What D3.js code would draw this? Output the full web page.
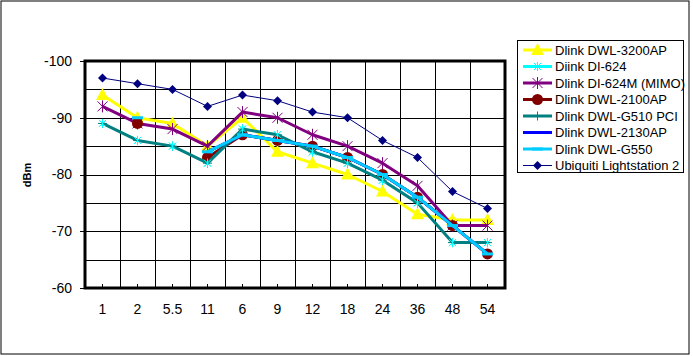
<!DOCTYPE html>
<html><head><meta charset="utf-8">
<script src="https://cdn.jsdelivr.net/npm/d3@7"></script>
<style>html,body{margin:0;padding:0;background:#fff;}svg{display:block;}</style>
</head><body>
<svg id="chart" width="693" height="356"></svg>
<script>
const categories = ["1","2","5.5","11","6","9","12","18","24","36","48","54"];
const yTicks = [-100,-90,-80,-70,-60];
const seriesNames = ["Dlink DWL-3200AP","Diink DI-624","Dlink DI-624M (MIMO)","Dlink DWL-2100AP","Dlink DWL-G510 PCI","Dlink DWL-2130AP","Dlink DWL-G550","Ubiquiti Lightstation 2"];
const dwl3200 = [-94,-90,-89,-85,-90,-84,-82,-80,-77,-73,-72,-72];
const di624   = [-89,-86,-85,-82,-88,-87,-84,-82,-79,-75,-68,-68];
const di624m  = [-92,-89,-88,-85,-91,-90,-87,-85,-82,-78,-71,-71];
const dwl2100 = [null,-89,null,-83,-87,-86,-85,-83,-80,-76,-71,-66];
const g510    = [-89,-86,-85,-82,-88,-87,-84,-82,-79,-75,-68,-68];
const dwl2130 = [null,-90,null,-84,-87,-86,-85,-83,-80,-76,-71,-66];
const g550    = [null,-90,null,-84,-87,-86,-85,-83,-80,-76,-71,-66];
const ubiquiti= [-97,-96,-95,-92,-94,-93,-91,-90,-86,-83,-77,-74];

const seriesValues = [dwl3200, di624, di624m, dwl2100, g510, dwl2130, g550, ubiquiti];
const colors = ["#FFFF00","#00FFFF","#800080","#800000","#008080","#0000FF","#00CCFF","#000080"];
const widths = [3,1.5,3,3,3,3,3,1];
const markers = ["triangle","x","star","circle","plus","none","dash","diamond"];

const svg = d3.select("#chart");
const font = "Arial, 'Liberation Sans', sans-serif";
const L=85, R=505, T=61, B=288;

svg.append("rect").attr("x",1).attr("y",1).attr("width",688).attr("height",353)
  .attr("fill","#fff").attr("stroke","#000").attr("stroke-width",1);

const x = d3.scaleBand().domain(categories).range([L,R]).padding(0);
const y = d3.scaleLinear().domain([-100,-60]).range([T,B]);

// grid
const g = svg.append("g").attr("shape-rendering","crispEdges");
d3.range(-95,-60,5).forEach(v=>{
  g.append("line").attr("x1",L).attr("x2",R).attr("y1",Math.round(y(v))+0.5).attr("y2",Math.round(y(v))+0.5)
   .attr("stroke","#000").attr("stroke-width",1);
});
categories.slice(1).forEach(c=>{
  const xx=Math.round(x(c))+0.5;
  g.append("line").attr("x1",xx).attr("x2",xx).attr("y1",T).attr("y2",B).attr("stroke","#000");
});

// axes
const yAxis = d3.axisLeft(y).tickValues(yTicks).tickSize(5).tickPadding(8).tickFormat(d=>d);
const ya = svg.append("g").attr("transform",`translate(${L},0)`).call(yAxis);
ya.select(".domain").remove();
ya.selectAll("line").attr("stroke","#000").attr("shape-rendering","crispEdges");
ya.selectAll("text").attr("font-family",font).attr("font-size",14).attr("fill","#000");

const xAxis = d3.axisBottom(x).tickSize(-4).tickPadding(16);
const xa = svg.append("g").attr("transform",`translate(0,${B})`).call(xAxis);
xa.select(".domain").remove();
xa.selectAll("line").attr("stroke","#000").attr("shape-rendering","crispEdges");
xa.selectAll("text").attr("font-family",font).attr("font-size",14).attr("fill","#000");

svg.append("rect").attr("x",L).attr("y",T).attr("width",R-L).attr("height",B-T)
  .attr("fill","none").attr("stroke","#000").attr("stroke-width",3);

svg.append("text").attr("transform","translate(31,175) rotate(-90)").attr("text-anchor","middle")
  .attr("font-family",font).attr("font-size",11).attr("font-weight","bold").text("dBm");

function drawMarker(sel, type, color, cx, cy){
  const s = sel.append("g").attr("transform",`translate(${cx},${cy})`);
  if(type==="triangle") s.append("path").attr("d","M0,-7L6.5,5L-6.5,5Z").attr("fill",color);
  else if(type==="circle") s.append("circle").attr("r",5.5).attr("fill",color);
  else if(type==="diamond") s.append("path").attr("d","M0,-4.5L4.5,0L0,4.5L-4.5,0Z").attr("fill",color);
  else if(type==="dash") s.append("rect").attr("x",-5.5).attr("y",-1.5).attr("width",11).attr("height",3).attr("fill",color);
  else if(type==="plus") s.append("path").attr("d","M-4.5,0H4.5M0,-4.5V4.5").attr("stroke",color).attr("stroke-width",1);
  else if(type==="x") s.append("path").attr("d","M-3.5,-3.5L3.5,3.5M-3.5,3.5L3.5,-3.5M0,-4.5V4.5").attr("stroke",color).attr("stroke-width",1);
  else if(type==="star") s.append("path").attr("d","M-5,-5L5,5M-5,5L5,-5M0,-6V6").attr("stroke",color).attr("stroke-width",1);
}

const line = d3.line().defined(d=>d.v!=null).x(d=>x(d.c)+x.bandwidth()/2).y(d=>y(d.v));
const plot = svg.append("g");
seriesValues.forEach((vals,i)=>{
  const pts = categories.map((c,j)=>({c, v: vals[j]}));
  plot.append("path").datum(pts).attr("d",line).attr("fill","none")
    .attr("stroke",colors[i]).attr("stroke-width",widths[i]).attr("stroke-linejoin","round");
  pts.filter(p=>p.v!=null).forEach(p=>drawMarker(plot, markers[i], colors[i], x(p.c)+x.bandwidth()/2, y(p.v)));
});
// cyan markers of DI-624 sit on top of the teal line
categories.forEach((c,j)=>{ if(di624[j]!=null) drawMarker(plot,"x",colors[1],x(c)+x.bandwidth()/2,y(di624[j])); });

// legend
const lg = svg.append("g");
lg.append("rect").attr("x",517.5).attr("y",40.5).attr("width",166).attr("height",132)
  .attr("fill","#fff").attr("stroke","#000").attr("stroke-width",1);
seriesNames.forEach((n,i)=>{
  const yy = 50 + i*16.5;
  lg.append("line").attr("x1",523).attr("x2",552).attr("y1",yy).attr("y2",yy)
    .attr("stroke",colors[i]).attr("stroke-width",widths[i]===1?1:3);
  drawMarker(lg, markers[i], colors[i], 537.5, yy);
  lg.append("text").attr("x",555).attr("y",yy).attr("dy","0.35em").attr("font-family",font)
    .attr("font-size",13).attr("fill","#000").text(n);
});
</script>
</body></html>
